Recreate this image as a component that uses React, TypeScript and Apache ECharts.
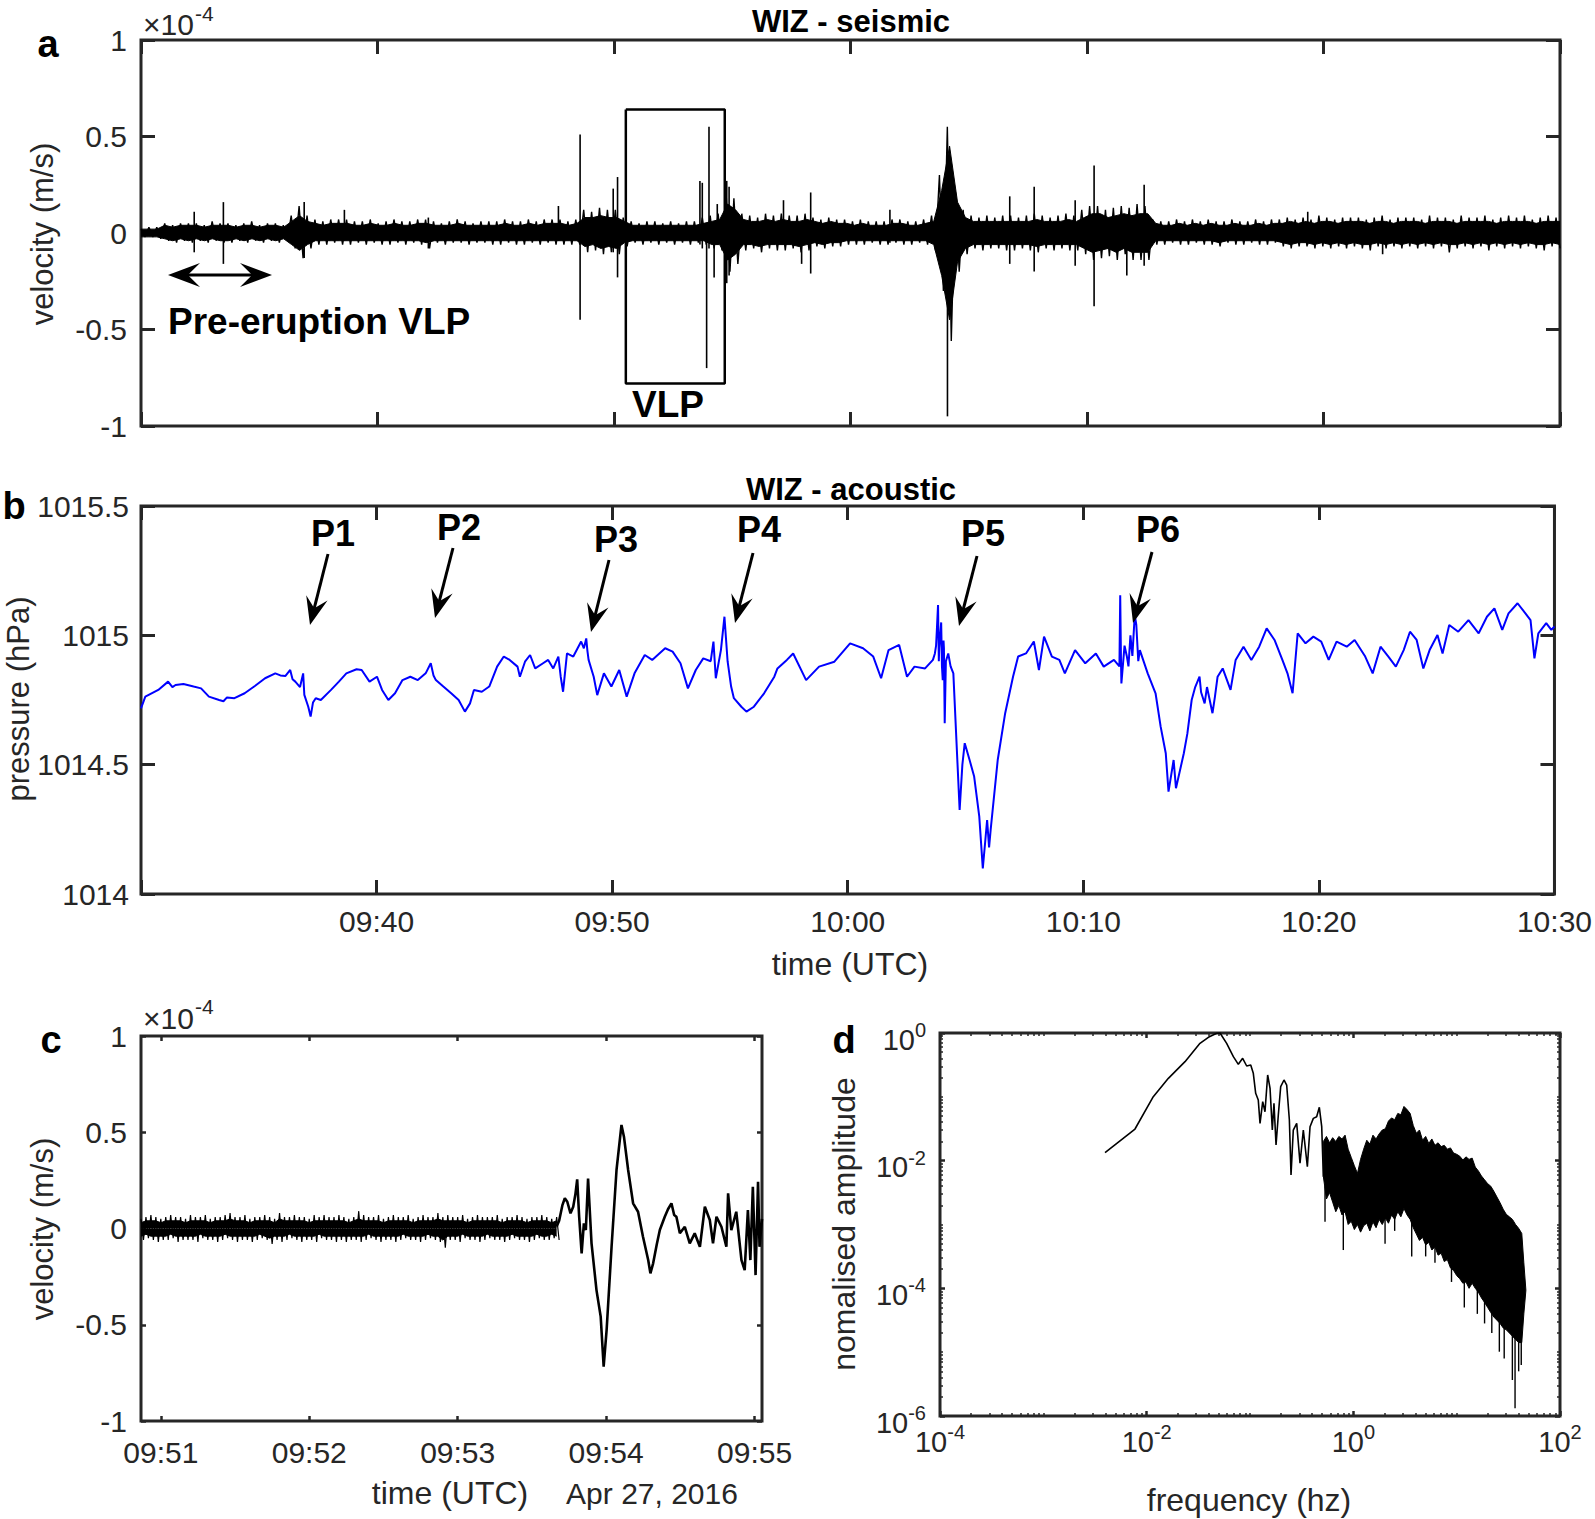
import React, { useEffect, useRef } from 'react';
import * as echarts from 'echarts';

const W = 1595;
const H = 1519;
const FONT = "'Liberation Sans', Arial, Helvetica, sans-serif";
const AX = '#262626';

// ---------------- Panel a : WIZ seismic (units: 0.01 x 1e-4 m/s) ----------------
// 180 windows 09:30 - 10:30.
// extreme (fringe) maximum / minimum of the trace in each window
const seisHi = [
  2, 3, 3, 5, 4, 5, 5, 5, 4, 6,
  5, 5, 4, 5, 6, 4, 5, 5, 4, 9,
  14, 9, 7, 6, 7, 7, 7, 6, 6, 7,
  5, 6, 7, 6, 6, 7, 7, 6, 5, 6,
  7, 6, 5, 6, 6, 6, 7, 6, 6, 7,
  6, 7, 7, 7, 6, 7, 12, 11, 13, 12,
  12, 8, 6, 5, 6, 6, 5, 6, 5, 6,
  6, 8, 9, 10, 22, 18, 10, 9, 8, 10,
  9, 10, 9, 9, 10, 8, 7, 8, 7, 7,
  6, 7, 6, 6, 6, 7, 7, 6, 6, 7,
  9, 30, 55, 22, 12, 9, 8, 9, 8, 9,
  9, 8, 9, 10, 9, 8, 9, 10, 9, 12,
  14, 14, 12, 13, 14, 13, 15, 14, 7, 6,
  6, 7, 6, 7, 6, 7, 6, 6, 7, 6,
  6, 7, 6, 7, 7, 8, 7, 8, 7, 9,
  8, 7, 8, 8, 8, 7, 8, 9, 7, 8,
  8, 8, 7, 9, 8, 8, 7, 9, 8, 8,
  9, 7, 8, 9, 8, 9, 7, 8, 9, 8,
];
const seisLo = [
  -2, -2, -3, -4, -5, -4, -5, -4, -5, -4,
  -5, -5, -4, -5, -4, -5, -4, -5, -4, -8,
  -13, -8, -6, -6, -5, -6, -6, -5, -6, -5,
  -6, -6, -5, -6, -5, -6, -8, -5, -6, -5,
  -5, -6, -5, -5, -6, -6, -5, -6, -6, -5,
  -6, -5, -6, -6, -6, -6, -10, -9, -11, -10,
  -11, -7, -5, -6, -5, -6, -5, -6, -5, -6,
  -5, -6, -8, -9, -20, -16, -9, -8, -10, -8,
  -9, -9, -8, -10, -9, -7, -8, -7, -7, -6,
  -6, -6, -5, -6, -6, -5, -6, -6, -5, -6,
  -9, -30, -56, -20, -11, -8, -9, -8, -8, -9,
  -9, -8, -9, -10, -8, -9, -8, -9, -9, -11,
  -14, -13, -12, -14, -11, -14, -14, -14, -6, -6,
  -5, -6, -6, -5, -6, -6, -7, -5, -6, -6,
  -5, -6, -6, -5, -7, -8, -7, -7, -8, -7,
  -8, -7, -8, -7, -8, -9, -7, -8, -7, -8,
  -7, -8, -7, -8, -7, -10, -8, -7, -8, -7,
  -9, -7, -8, -7, -8, -7, -8, -9, -7, -8,
];
// extent of the dense (solid) core of the trace in the same windows
const seisCoreHi = [
  2, 2, 2, 4, 3, 4, 4, 4, 3, 4,
  4, 4, 3, 4, 4, 3, 4, 4, 3, 6,
  9, 6, 5, 4, 5, 5, 5, 4, 4, 5,
  4, 4, 5, 4, 4, 5, 5, 4, 4, 4,
  5, 4, 4, 4, 4, 4, 5, 4, 4, 5,
  4, 5, 5, 5, 4, 5, 8, 8, 9, 8,
  8, 6, 4, 4, 4, 4, 4, 4, 4, 4,
  4, 5, 6, 7, 15, 12, 7, 6, 6, 7,
  6, 7, 6, 6, 7, 6, 5, 6, 5, 5,
  4, 5, 4, 4, 4, 5, 5, 4, 4, 5,
  6, 22, 45, 16, 8, 6, 6, 6, 6, 6,
  6, 6, 6, 7, 6, 6, 6, 7, 6, 8,
  10, 10, 8, 9, 10, 9, 10, 10, 5, 4,
  4, 5, 4, 5, 4, 5, 4, 4, 5, 4,
  4, 5, 4, 5, 5, 6, 5, 6, 5, 6,
  6, 5, 6, 6, 6, 5, 6, 6, 5, 6,
  6, 6, 5, 6, 6, 6, 5, 6, 6, 6,
  6, 5, 6, 6, 6, 6, 5, 6, 6, 6,
];
const seisCoreLo = [
  -2, -2, -2, -3, -4, -3, -4, -3, -4, -3,
  -4, -4, -3, -4, -3, -4, -3, -4, -3, -6,
  -9, -6, -4, -4, -4, -4, -4, -4, -4, -4,
  -4, -4, -4, -4, -4, -4, -5, -4, -4, -4,
  -4, -4, -4, -4, -4, -4, -4, -4, -4, -4,
  -4, -4, -4, -4, -4, -4, -7, -6, -8, -7,
  -8, -5, -4, -4, -4, -4, -4, -4, -4, -4,
  -4, -4, -6, -6, -14, -11, -6, -6, -7, -6,
  -6, -6, -6, -7, -6, -5, -6, -5, -5, -4,
  -4, -4, -4, -4, -4, -4, -4, -4, -4, -4,
  -6, -22, -45, -15, -8, -6, -6, -6, -6, -6,
  -6, -6, -6, -7, -6, -6, -6, -6, -6, -8,
  -10, -9, -8, -10, -8, -10, -10, -10, -4, -4,
  -4, -4, -4, -4, -4, -4, -5, -4, -4, -4,
  -4, -4, -4, -4, -5, -6, -5, -5, -6, -5,
  -6, -5, -6, -5, -6, -6, -5, -6, -5, -6,
  -5, -6, -5, -6, -5, -6, -6, -5, -6, -5,
  -6, -5, -6, -5, -6, -5, -6, -6, -5, -6,
];
// isolated spikes: [seconds after 09:30, top, bottom]
const seisSpikes = [
  [135, 11, -10], [209, 16, -16], [414, 16, -13], [516, 12, -4], [729, 8, -8],
  [1059, 14, -4], [1114, 51, -45], [1198, 23, -10], [1209, 29, -23],
  [1418, 27, -6], [1424, 26, -8], [1435, 4, -70], [1441, 55, -8], [1454, 6, -23],
  [1462, 15, -6], [1486, 27, -26], [1492, 24, -22], [1630, 17, -6], [1676, 6, -16],
  [1699, 21, -21], [1900, 12, -5], [2046, 8, -95], [2204, 19, -16], [2266, 24, -20],
  [2370, 17, -17], [2418, 35, -38], [2501, 8, -22], [2545, 25, -17], [2960, 11, -6],
  [3150, 6, -11],
];
// VLP window marked in panel a: [seconds after 09:30, velocity]
const vlpBox = [[1230, 64], [1481, 64], [1481, -78], [1230, -78], [1230, 64]];

// ---------------- Panel b : WIZ acoustic (hPa) ----------------
// [seconds after 09:30, pressure]
const pressure = [
  [0, 1014.718], [11, 1014.763], [44, 1014.789], [69, 1014.821], [80, 1014.8], [88, 1014.808],
  [108, 1014.812], [134, 1014.802], [153, 1014.795], [173, 1014.763], [199, 1014.75], [210, 1014.745],
  [219, 1014.76], [238, 1014.757], [264, 1014.776], [290, 1014.804], [316, 1014.834], [342, 1014.853],
  [355, 1014.845], [368, 1014.843], [380, 1014.866], [386, 1014.83], [393, 1014.821], [405, 1014.8],
  [413, 1014.853], [416, 1014.77], [426, 1014.724], [432, 1014.686], [438, 1014.74], [445, 1014.757],
  [458, 1014.75], [484, 1014.789], [504, 1014.821], [523, 1014.853], [549, 1014.869], [562, 1014.866],
  [582, 1014.821], [601, 1014.84], [614, 1014.789], [630, 1014.75], [647, 1014.776], [666, 1014.827],
  [686, 1014.84], [705, 1014.827], [725, 1014.853], [738, 1014.892], [745, 1014.845], [751, 1014.827],
  [770, 1014.802], [790, 1014.776], [809, 1014.75], [825, 1014.705], [838, 1014.737], [848, 1014.789],
  [868, 1014.782], [887, 1014.802], [907, 1014.879], [924, 1014.918], [939, 1014.905], [959, 1014.879],
  [965, 1014.84], [978, 1014.898], [991, 1014.924], [1004, 1014.872], [1024, 1014.892], [1037, 1014.905],
  [1050, 1014.872], [1063, 1014.918], [1069, 1014.84], [1075, 1014.782], [1085, 1014.93], [1101, 1014.918],
  [1121, 1014.976], [1128, 1014.95], [1134, 1014.988], [1137, 1014.94], [1140, 1014.905], [1153, 1014.84],
  [1162, 1014.769], [1179, 1014.853], [1198, 1014.802], [1218, 1014.866], [1237, 1014.763], [1257, 1014.853],
  [1283, 1014.924], [1302, 1014.905], [1335, 1014.95], [1354, 1014.937], [1374, 1014.892], [1393, 1014.795],
  [1413, 1014.866], [1432, 1014.911], [1451, 1014.9], [1458, 1014.976], [1464, 1014.834], [1477, 1014.943],
  [1486, 1015.072], [1494, 1014.9], [1503, 1014.802], [1510, 1014.757], [1529, 1014.724], [1542, 1014.705],
  [1561, 1014.724], [1587, 1014.776], [1613, 1014.84], [1621, 1014.872], [1645, 1014.905], [1661, 1014.93],
  [1694, 1014.827], [1727, 1014.879], [1766, 1014.898], [1806, 1014.969], [1839, 1014.95], [1865, 1014.918],
  [1885, 1014.834], [1904, 1014.943], [1931, 1014.963], [1951, 1014.84], [1970, 1014.879], [1997, 1014.872],
  [2017, 1014.905], [2022, 1014.93], [2025, 1014.96], [2027, 1015.02], [2030, 1015.117], [2032, 1014.9],
  [2033, 1014.95], [2036, 1015.008], [2038, 1015.05], [2040, 1014.88], [2042, 1014.827], [2044, 1014.98],
  [2045, 1014.95], [2047, 1014.66], [2050, 1014.9], [2056, 1014.93], [2062, 1014.88],
  [2069, 1014.853], [2085, 1014.325], [2092, 1014.5], [2098, 1014.583], [2110, 1014.52], [2122, 1014.454],
  [2135, 1014.3], [2144, 1014.099], [2150, 1014.2], [2155, 1014.286], [2160, 1014.18], [2164, 1014.248],
  [2182, 1014.518], [2201, 1014.699], [2221, 1014.84], [2234, 1014.918], [2254, 1014.93], [2274, 1014.976],
  [2287, 1014.866], [2300, 1014.995], [2320, 1014.918], [2339, 1014.905], [2353, 1014.853], [2379, 1014.943],
  [2405, 1014.892], [2432, 1014.93], [2452, 1014.879], [2478, 1014.905], [2492, 1014.88], [2494, 1015.155],
  [2496, 1014.9], [2497, 1014.814], [2505, 1014.96], [2511, 1014.918], [2515, 1014.88], [2520, 1015.0],
  [2525, 1014.92], [2531, 1015.079], [2535, 1015.04], [2540, 1014.9], [2544, 1014.943], [2564, 1014.853],
  [2584, 1014.776], [2597, 1014.647], [2610, 1014.544], [2617, 1014.396], [2630, 1014.518], [2636, 1014.409],
  [2656, 1014.544], [2665, 1014.62], [2676, 1014.75], [2685, 1014.8], [2696, 1014.84], [2700, 1014.78],
  [2709, 1014.737], [2715, 1014.8], [2729, 1014.699], [2735, 1014.76], [2742, 1014.84],
  [2755, 1014.872], [2775, 1014.789], [2788, 1014.905], [2808, 1014.956], [2828, 1014.905], [2848, 1014.956],
  [2867, 1015.027], [2887, 1014.982], [2907, 1014.905], [2920, 1014.853], [2933, 1014.776], [2946, 1015.008],
  [2966, 1014.969], [2986, 1014.995], [3006, 1014.976], [3025, 1014.905], [3045, 1014.976], [3071, 1014.956],
  [3091, 1014.982], [3118, 1014.918], [3137, 1014.853], [3157, 1014.956], [3177, 1014.918], [3196, 1014.879],
  [3216, 1014.943], [3232, 1015.014], [3249, 1014.982], [3266, 1014.872], [3282, 1014.943], [3302, 1015.001],
  [3315, 1014.93], [3332, 1015.04], [3355, 1015.014], [3381, 1015.059], [3407, 1015.008], [3428, 1015.072],
  [3447, 1015.104], [3467, 1015.021], [3483, 1015.085], [3506, 1015.124], [3526, 1015.085], [3539, 1015.059],
  [3549, 1014.911], [3559, 1015.008], [3579, 1015.047], [3592, 1015.021], [3600, 1015.034],
];

// ---------------- Panel c : zoom on the VLP (units: 0.01 x 1e-4 m/s) ----------------
// background noise in 2 s windows from 09:50:52 to 09:53:40: extremes and dense core
const cNoiseHi = [
  5, 6, 7, 6, 5, 6, 7, 6, 6, 5, 7, 6, 6, 7, 5, 6, 6, 7, 8, 6,
  6, 7, 5, 6, 6, 7, 6, 5, 8, 6, 6, 7, 6, 6, 5, 7, 6, 7, 6, 6,
  7, 6, 5, 6, 9, 7, 6, 6, 7, 5, 6, 7, 6, 6, 7, 5, 6, 7, 6, 6,
  8, 6, 7, 6, 6, 7, 5, 6, 7, 6, 6, 6, 7, 5, 6, 6, 7, 6, 5, 6,
  6, 7, 6, 5, 6,
];
const cNoiseLo = [
  -6, -5, -6, -7, -6, -6, -5, -7, -6, -6, -6, -7, -5, -6, -6, -7, -6, -5, -6, -7,
  -6, -6, -7, -6, -5, -6, -8, -6, -7, -6, -5, -6, -7, -6, -6, -7, -5, -6, -6, -7,
  -6, -7, -6, -6, -7, -6, -5, -6, -7, -6, -6, -7, -6, -5, -6, -6, -7, -6, -5, -6,
  -7, -10, -6, -6, -7, -5, -6, -6, -7, -6, -5, -6, -6, -7, -6, -5, -6, -6, -7, -6,
  -5, -6, -6, -5, -6,
];
const cCoreHi = [
  3, 4, 4, 4, 3, 4, 4, 4, 4, 3, 4, 4, 4, 4, 3, 4, 4, 4, 5, 4,
  4, 4, 3, 4, 4, 4, 4, 3, 5, 4, 4, 4, 4, 4, 3, 4, 4, 4, 4, 4,
  4, 4, 3, 4, 5, 4, 4, 4, 4, 3, 4, 4, 4, 4, 4, 3, 4, 4, 4, 4,
  5, 4, 4, 4, 4, 4, 3, 4, 4, 4, 4, 4, 4, 3, 4, 4, 4, 4, 3, 4,
  4, 4, 4, 3, 4,
];
const cCoreLo = [
  -4, -3, -4, -4, -4, -4, -3, -4, -4, -4, -4, -4, -3, -4, -4, -4, -4, -3, -4, -4,
  -4, -4, -4, -4, -3, -4, -5, -4, -4, -4, -3, -4, -4, -4, -4, -4, -3, -4, -4, -4,
  -4, -4, -4, -4, -4, -4, -3, -4, -4, -4, -4, -4, -4, -3, -4, -4, -4, -4, -3, -4,
  -4, -6, -4, -4, -4, -3, -4, -4, -4, -4, -3, -4, -4, -4, -4, -3, -4, -4, -4, -4,
  -3, -4, -4, -3, -4,
];
const cNoiseStart = 52; // seconds after 09:50
const cNoiseStep = 2;
// VLP waveform: [seconds after 09:50, velocity]
const vlpWave = [
  [220, 1], [221, 4], [222.3, 12], [223.3, 15.7], [224.3, 13.9], [225.6, 7.9], [226.7, 11.3], [227.6, 18],
  [228.3, 25.5], [229.1, 6.1], [230.1, -12.9], [231, 2.7], [231.8, -0.8], [232.7, 26], [234.1, -7.7],
  [236.1, -32], [237.8, -45.8], [239, -71.8], [240.2, -52.7], [242.2, -9.5], [244.2, 30.4], [246.2, 53.8],
  [247.2, 47.7], [248.9, 30.4], [250.9, 13.1], [252.9, 8.7], [254.9, -4.3], [257, -16.4], [257.9, -23.3],
  [259, -18.1], [260.5, -8], [261.7, -0.8], [263.7, 6.1], [265, 10], [266.4, 13.1], [267.5, 7], [268.4, 6.1],
  [269.8, -2.5], [271.8, 0.9], [273.8, -7.7], [275.8, -2.5], [277.9, -9.5], [279.9, 11.3], [281.9, 4.4],
  [283.2, -7.7], [284.6, 6.1], [286.6, 0.9], [288.6, -9.5], [289.3, 18.3], [290.6, -0.8], [292.6, 8.7],
  [294.7, -16.4], [296, -21.6], [297.3, 9.6], [298.3, -16.4], [299.3, 21.7], [300.4, -24.2], [301.4, 24.3],
  [302, -9.5], [303, 5],
];
const cTimeTicks = [60, 120, 180, 240, 300];

// ---------------- Panel d : spectrum (log10 frequency, log10 amplitude) ----------------
const specSmooth = [
  [-2.403, -1.875], [-2.113, -1.504], [-1.936, -0.998], [-1.79, -0.71], [-1.629, -0.449], [-1.484, -0.162],
  [-1.403, -0.068], [-1.322, -0.005], [-1.29, 0], [-1.226, -0.162], [-1.161, -0.371], [-1.113, -0.491],
  [-1.071, -0.397], [-1.032, -0.517], [-0.993, -0.501], [-0.968, -0.632], [-0.945, -0.945], [-0.92, -1.05],
  [-0.903, -1.415], [-0.877, -1.076], [-0.855, -1.233], [-0.829, -0.658], [-0.806, -0.867], [-0.784, -1.52],
  [-0.768, -1.1], [-0.748, -1.755], [-0.726, -1.285], [-0.703, -0.841], [-0.671, -0.736], [-0.645, -0.815],
  [-0.619, -1.363], [-0.603, -2.225], [-0.581, -1.52], [-0.548, -1.415], [-0.516, -2.041], [-0.484, -1.52],
  [-0.445, -2.094], [-0.419, -1.468], [-0.387, -1.337], [-0.355, -1.311], [-0.329, -1.164], [-0.306, -1.468],
  [-0.29, -2.251],
];
// dense part: [log10 f, log10 upper edge, log10 lower edge]
const specDense = [
  [-0.29, -1.7, -2.25], [-0.26, -1.62, -2.6], [-0.23, -1.72, -2.5], [-0.2, -1.64, -2.65], [-0.17, -1.7, -2.8],
  [-0.14, -1.62, -2.7], [-0.11, -1.66, -2.85], [-0.08, -1.6, -2.8], [-0.05, -1.82, -3.0], [-0.02, -1.95, -2.95],
  [0.01, -2.08, -3.08], [0.04, -2.2, -3.0], [0.07, -1.98, -3.12], [0.1, -1.82, -3.02], [0.13, -1.68, -2.98],
  [0.16, -1.74, -3.1], [0.19, -1.6, -2.96], [0.22, -1.66, -3.05], [0.25, -1.58, -2.92], [0.28, -1.52, -3.0],
  [0.31, -1.5, -2.9], [0.34, -1.38, -2.98], [0.37, -1.33, -2.85], [0.4, -1.36, -2.92], [0.43, -1.26, -2.8],
  [0.46, -1.28, -2.88], [0.49, -1.15, -2.75], [0.52, -1.2, -2.85], [0.55, -1.26, -2.92], [0.58, -1.45, -3.05],
  [0.61, -1.57, -3.15], [0.64, -1.52, -3.25], [0.67, -1.68, -3.2], [0.7, -1.62, -3.32], [0.73, -1.73, -3.28],
  [0.76, -1.66, -3.4], [0.79, -1.76, -3.35], [0.82, -1.72, -3.48], [0.85, -1.78, -3.45], [0.88, -1.76, -3.58],
  [0.91, -1.82, -3.55], [0.94, -1.8, -3.68], [0.97, -1.88, -3.72], [1.0, -1.9, -3.8], [1.03, -1.93, -3.85],
  [1.06, -1.99, -3.92], [1.09, -1.94, -3.9], [1.12, -1.98, -4.0], [1.15, -1.96, -3.92], [1.18, -2.1, -4.0],
  [1.21, -2.16, -4.06], [1.24, -2.24, -4.15], [1.27, -2.3, -4.22], [1.3, -2.36, -4.3], [1.33, -2.4, -4.38],
  [1.36, -2.48, -4.45], [1.39, -2.57, -4.5], [1.42, -2.66, -4.55], [1.45, -2.76, -4.62], [1.48, -2.84, -4.65],
  [1.51, -2.88, -4.7], [1.54, -2.92, -4.75], [1.57, -3.0, -4.8], [1.6, -3.06, -4.85], [1.63, -3.14, -4.85],
  [1.65, -3.6, -4.4], [1.67, -4.03, -4.03],
];
// downward spikes: [log10 f, log10 top, log10 bottom]
const specSpikes = [
  [-0.274, -2.4, -2.956], [-0.097, -2.6, -3.4], [0.307, -2.7, -3.3], [0.4, -2.7, -3.1], [0.565, -2.6, -3.5],
  [0.7, -3.0, -3.5], [0.79, -3.1, -3.6], [0.95, -3.4, -3.9], [1.074, -3.7, -4.3], [1.2, -3.8, -4.4],
  [1.27, -4.0, -4.55], [1.34, -4.2, -4.7], [1.413, -4.3, -4.993], [1.46, -4.4, -5.1], [1.539, -4.5, -5.436],
  [1.565, -4.55, -5.88], [1.6, -4.7, -5.3], [1.625, -4.8, -5.2],
];
const dXTicks = [1e-4, 1e-2, 1, 1e2];
const dYTicks = [1e-6, 1e-4, 1e-2, 1];

// ---------------- helpers ----------------
const pad2 = (n: number) => (n < 10 ? '0' : '') + n;
const clock = (baseMin: number) => (v: number) => {
  const tot = Math.round(baseMin + v / 60);
  return pad2(Math.floor(tot / 60)) + ':' + pad2(tot % 60);
};
const p10 = (e: number) => Math.pow(10, e);

function minorLogTicks(e0: number, e1: number, majors: number[]) {
  const out: number[] = [];
  for (let e = e0; e < e1; e++) {
    for (let k = 1; k <= 9; k++) {
      const v = k * Math.pow(10, e);
      if (!majors.some((m) => Math.abs(m - v) / m < 1e-9)) out.push(v);
    }
  }
  return out;
}

// interleave window maxima and minima into one oscillating trace
function minMaxTrace(hi: number[], lo: number[], t0: number, step: number) {
  const out: number[][] = [];
  for (let i = 0; i < hi.length; i++) {
    out.push([t0 + i * step, hi[i] / 100]);
    out.push([t0 + (i + 0.5) * step, lo[i] / 100]);
  }
  return out;
}
function windowSeries(vals: number[], t0: number, step: number) {
  return vals.map((v, i) => [t0 + i * step, v / 100]);
}

function txt(text: string, x: number, y: number, size: number, o: any = {}) {
  const align = o.align || 'center';
  return {
    type: 'text',
    x,
    y,
    rotation: o.rot || 0,
    z: 100,
    style: {
      text,
      fill: o.color || '#000',
      fontSize: size,
      fontWeight: o.bold ? 'bold' : 'normal',
      fontFamily: FONT,
      textAlign: align,
      textVerticalAlign: 'middle',
      align,
      verticalAlign: 'middle',
    },
  };
}

function head(tx: number, ty: number, ux: number, uy: number, L: number, Wd: number) {
  const nx = -uy;
  const ny = ux;
  const bx = tx - ux * L;
  const by = ty - uy * L;
  return {
    type: 'polygon',
    z: 100,
    shape: {
      points: [
        [tx, ty],
        [bx + nx * Wd, by + ny * Wd],
        [tx - ux * L * 0.62, ty - uy * L * 0.62],
        [bx - nx * Wd, by - ny * Wd],
      ],
    },
    style: { fill: '#000' },
  };
}

function arrow(sx: number, sy: number, tx: number, ty: number) {
  const len = Math.hypot(tx - sx, ty - sy);
  const ux = (tx - sx) / len;
  const uy = (ty - sy) / len;
  const L = 28;
  return [
    {
      type: 'line',
      z: 100,
      shape: { x1: sx, y1: sy, x2: tx - ux * L * 0.6, y2: ty - uy * L * 0.6 },
      style: { stroke: '#000', lineWidth: 3 },
    },
    head(tx, ty, ux, uy, L, 11),
  ];
}

function buildOption(): any {
  const lab = { color: AX, fontFamily: FONT, fontSize: 30 };
  const noLine = { show: false, onZero: false };
  const noSplit = { show: false };
  const plain = (v: number) => String(v);
  const tick = (len: number, w: number, extra: any = {}) => ({
    show: true,
    inside: true,
    length: len,
    lineStyle: { color: AX, width: w },
    ...extra,
  });
  const powRich = {
    b: { fontSize: 29, fontFamily: FONT, color: AX, lineHeight: 34, verticalAlign: 'bottom' },
    s: { fontSize: 20, fontFamily: FONT, color: AX, lineHeight: 4, verticalAlign: 'top' },
  };
  const powFmt = (v: number) => '{b|10}{s|' + Math.round(Math.log10(v)) + '}';
  const minorX = minorLogTicks(-4, 2, dXTicks);
  const minorY = minorLogTicks(-6, 0, dYTicks);

  const timeAxis = (gi: number, pos: string, labels: boolean) => ({
    gridIndex: gi,
    type: 'value',
    position: pos,
    min: 0,
    max: 3600,
    interval: 600,
    axisLine: noLine,
    axisTick: tick(14, 3),
    splitLine: noSplit,
    axisLabel: labels
      ? { show: true, ...lab, margin: 12, showMinLabel: true, showMaxLabel: true, formatter: (v: number) => (v === 0 ? '' : clock(570)(v)) }
      : { show: false },
  });
  const cAxis = (pos: string, labels: boolean) => ({
    gridIndex: 2,
    type: 'value',
    position: pos,
    min: 52,
    max: 303,
    axisLine: noLine,
    axisTick: tick(5, 2.5, { customValues: cTimeTicks }),
    splitLine: noSplit,
    axisLabel: labels
      ? { show: true, ...lab, margin: 16, customValues: cTimeTicks, formatter: clock(590) }
      : { show: false },
  });
  const logAxis = (gi: number, pos: string, min: number, max: number, ticks: number[], len: number, w: number, labels: boolean, margin: number, padding: any = 0) => ({
    gridIndex: gi,
    type: 'log',
    logBase: 10,
    position: pos,
    min,
    max,
    axisLine: noLine,
    axisTick: tick(len, w, { customValues: ticks }),
    minorTick: { show: false },
    splitLine: noSplit,
    axisLabel: labels
      ? { show: true, customValues: ticks, margin, padding, formatter: powFmt, rich: powRich, showMinLabel: true, showMaxLabel: true }
      : { show: false },
  });
  const valY = (gi: number, pos: string, min: number, max: number, interval: number, len: number, w: number, labels: boolean, margin = 13) => ({
    gridIndex: gi,
    type: 'value',
    position: pos,
    min,
    max,
    interval,
    axisLine: noLine,
    axisTick: tick(len, w),
    splitLine: noSplit,
    axisLabel: labels ? { show: true, ...lab, margin, formatter: plain, showMinLabel: true, showMaxLabel: true } : { show: false },
  });

  const xAxis = [
    timeAxis(0, 'bottom', false),
    timeAxis(0, 'top', false),
    timeAxis(1, 'bottom', true),
    timeAxis(1, 'top', false),
    cAxis('bottom', true),
    cAxis('top', false),
    logAxis(3, 'bottom', 1e-4, 1e2, dXTicks, 5, 2.5, true, 6),
    logAxis(3, 'top', 1e-4, 1e2, dXTicks, 5, 2.5, false, 0),
    logAxis(3, 'bottom', 1e-4, 1e2, minorX, 3, 1.5, false, 0),
    logAxis(3, 'top', 1e-4, 1e2, minorX, 3, 1.5, false, 0),
  ];
  const yAxis = [
    valY(0, 'left', -1, 1, 0.5, 14, 3, true, 14),
    valY(0, 'right', -1, 1, 0.5, 14, 3, false),
    valY(1, 'left', 1014, 1015.5, 0.5, 14, 3, true, 12),
    valY(1, 'right', 1014, 1015.5, 0.5, 14, 3, false),
    valY(2, 'left', -1, 1, 0.5, 5, 2.5, true, 14),
    valY(2, 'right', -1, 1, 0.5, 5, 2.5, false),
    logAxis(3, 'left', 1e-6, 1, dYTicks, 5, 2.5, true, 14, [8, 0, 0, 0]),
    logAxis(3, 'right', 1e-6, 1, dYTicks, 5, 2.5, false, 0),
    logAxis(3, 'left', 1e-6, 1, minorY, 3, 1.5, false, 0),
    logAxis(3, 'right', 1e-6, 1, minorY, 3, 1.5, false, 0),
  ];

  const gridBase = { show: true, borderColor: AX, borderWidth: 3, backgroundColor: 'transparent', containLabel: false };
  const grid = [
    { ...gridBase, left: 141, top: 40, width: 1419, height: 386 },
    { ...gridBase, left: 141, top: 506, width: 1419, height: 388 },
    { ...gridBase, left: 141, top: 1036, width: 621, height: 385 },
    { ...gridBase, left: 940, top: 1033, width: 620, height: 383 },
  ];

  const filled = (data: number[][], xi: number, yi: number) => ({
    type: 'line',
    xAxisIndex: xi,
    yAxisIndex: yi,
    data,
    symbol: 'none',
    lineStyle: { color: '#000', width: 1 },
    areaStyle: { color: '#000', opacity: 1 },
    z: 3,
  });
  const thin = (data: number[][], xi: number, yi: number, lw: number, color = '#000') => ({
    type: 'line',
    xAxisIndex: xi,
    yAxisIndex: yi,
    data,
    symbol: 'none',
    lineStyle: { color, width: lw },
    z: 3,
  });
  const vSegs = (data: number[][], xi: number, yi: number, lw: number) => ({
    type: 'custom',
    xAxisIndex: xi,
    yAxisIndex: yi,
    coordinateSystem: 'cartesian2d',
    data,
    encode: { x: 0, y: [1, 2] },
    z: 4,
    renderItem: (params: any, api: any) => {
      const a = api.coord([api.value(0), api.value(1)]);
      const b = api.coord([api.value(0), api.value(2)]);
      return { type: 'line', shape: { x1: a[0], y1: a[1], x2: b[0], y2: b[1] }, style: { stroke: '#000', lineWidth: lw } };
    },
  });

  const seisStep = 3600 / (seisHi.length - 0.5);
  const coreStep = 3600 / (seisCoreHi.length - 1);

  const series: any[] = [
    // panel a
    filled(windowSeries(seisCoreHi, 0, coreStep), 0, 0),
    filled(windowSeries(seisCoreLo, 0, coreStep), 0, 0),
    thin(minMaxTrace(seisHi, seisLo, 0, seisStep), 0, 0, 1.4),
    vSegs(seisSpikes.map((s) => [s[0], s[1] / 100, s[2] / 100]), 0, 0, 1.6),
    {
      type: 'line',
      xAxisIndex: 0,
      yAxisIndex: 0,
      data: vlpBox.map((p) => [p[0], p[1] / 100]),
      symbol: 'none',
      lineStyle: { color: '#000', width: 2.5 },
      z: 5,
    },
    // panel b
    thin(pressure, 2, 2, 2, '#0000ff'),
    // panel c
    filled(windowSeries(cCoreHi, cNoiseStart, cNoiseStep), 4, 4),
    filled(windowSeries(cCoreLo, cNoiseStart, cNoiseStep), 4, 4),
    thin(minMaxTrace(cNoiseHi, cNoiseLo, cNoiseStart, cNoiseStep), 4, 4, 1.2),
    thin(vlpWave.map((p) => [p[0], p[1] / 100]), 4, 4, 2.6),
    // panel d
    thin(specSmooth.map((p) => [p10(p[0]), p10(p[1])]), 6, 6, 1.6),
    {
      type: 'custom',
      xAxisIndex: 6,
      yAxisIndex: 6,
      coordinateSystem: 'cartesian2d',
      data: [[1, 1e-3]],
      encode: { x: 0, y: 1 },
      z: 3,
      renderItem: (params: any, api: any) => {
        const pts: number[][] = [];
        specDense.forEach((r) => pts.push(api.coord([p10(r[0]), p10(r[1])])));
        for (let i = specDense.length - 1; i >= 0; i--) {
          pts.push(api.coord([p10(specDense[i][0]), p10(specDense[i][2])]));
        }
        return { type: 'polygon', shape: { points: pts }, style: { fill: '#000', stroke: '#000', lineWidth: 1 } };
      },
    },
    vSegs(specSpikes.map((s) => [p10(s[0]), p10(s[1]), p10(s[2])]), 6, 6, 1.4),
  ];

  const graphic: any[] = [
    txt('WIZ - seismic', 851, 21, 31, { bold: true }),
    txt('WIZ - acoustic', 851, 489, 31, { bold: true }),
    txt('a', 48, 44, 38, { bold: true }),
    txt('b', 14, 506, 38, { bold: true }),
    txt('c', 51, 1040, 38, { bold: true }),
    txt('d', 844, 1040, 38, { bold: true }),
    txt('\u00d710', 143, 24, 30, { align: 'left', color: AX }),
    txt('-4', 195, 13, 21, { align: 'left', color: AX }),
    txt('\u00d710', 143, 1018, 30, { align: 'left', color: AX }),
    txt('-4', 195, 1006, 21, { align: 'left', color: AX }),
    txt('velocity (m/s)', 42, 234, 31, { rot: Math.PI / 2, color: AX }),
    txt('pressure (hPa)', 18, 699, 31, { rot: Math.PI / 2, color: AX }),
    txt('velocity (m/s)', 42, 1229, 31, { rot: Math.PI / 2, color: AX }),
    txt('nomalised amplitude', 844, 1224, 32, { rot: Math.PI / 2, color: AX }),
    txt('time (UTC)', 850, 964, 32, { color: AX }),
    txt('time (UTC)', 450, 1493, 32, { color: AX }),
    txt('Apr 27, 2016', 652, 1493, 30, { color: AX }),
    txt('frequency (hz)', 1249, 1500, 32, { color: AX }),
    txt('Pre-eruption VLP', 168, 321, 37, { bold: true, align: 'left' }),
    txt('VLP', 668, 404, 37, { bold: true }),
    txt('P1', 333, 533, 36, { bold: true }),
    txt('P2', 459, 527, 36, { bold: true }),
    txt('P3', 616, 539, 36, { bold: true }),
    txt('P4', 759, 529, 36, { bold: true }),
    txt('P5', 983, 533, 36, { bold: true }),
    txt('P6', 1158, 529, 36, { bold: true }),
    {
      type: 'line',
      z: 100,
      shape: { x1: 185, y1: 275, x2: 255, y2: 275 },
      style: { stroke: '#000', lineWidth: 3 },
    },
    head(168, 275, -1, 0, 32, 12),
    head(272, 275, 1, 0, 32, 12),
    ...arrow(328, 554, 310, 625),
    ...arrow(453, 548, 435, 618),
    ...arrow(609, 560, 591, 632),
    ...arrow(753, 553, 735, 623),
    ...arrow(977, 556, 959, 626),
    ...arrow(1152, 552, 1133, 623),
  ];

  return {
    animation: false,
    backgroundColor: '#ffffff',
    textStyle: { fontFamily: FONT },
    grid,
    xAxis,
    yAxis,
    series,
    graphic,
  };
}

export default function App() {
  const ref = useRef<HTMLDivElement>(null);
  useEffect(() => {
    if (!ref.current) return;
    const chart = echarts.init(ref.current, undefined, { renderer: 'svg', width: W, height: H });
    chart.setOption(buildOption());
    return () => {
      chart.dispose();
    };
  }, []);
  return (
    <div
      ref={ref}
      style={{ position: 'absolute', left: 0, top: 0, width: W, height: H, background: '#fff' }}
    />
  );
}
